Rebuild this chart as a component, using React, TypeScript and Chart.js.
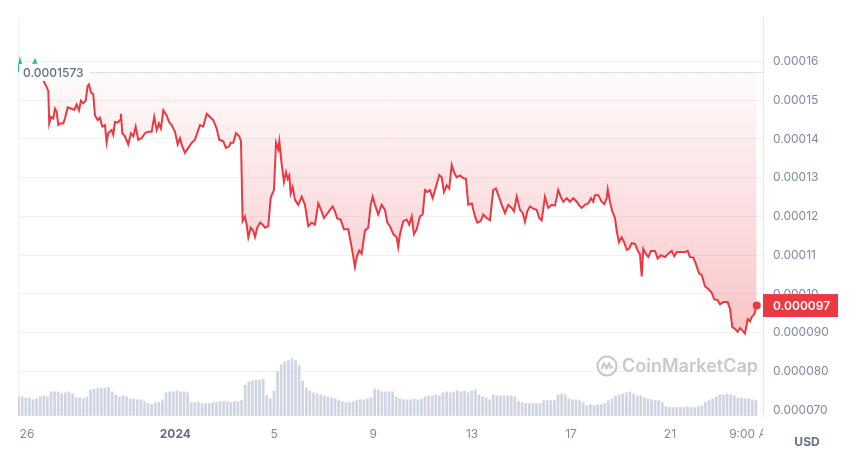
import React, { useEffect, useRef } from 'react';
import { Chart, registerables } from 'chart.js';

Chart.register(...registerables);

// Time axis: hours since 26 Dec 00:00
const priceHours = [
  -8.7, -6.8, -3.9, 0, 3.9, 7.8, 10.7, 14.6, 19.1, 20.7, 21.6, 23.3, 25.5, 27.2, 28.8, 30.4, 32.0, 35.2, 36.9, 39.5,
  43.4, 45.9, 48.2, 50.5, 52.4, 54.6, 57.0, 58.9, 60.2, 62.1, 64.3, 66.0, 68.6, 70.8, 73.1, 75.7, 77.3, 78.9, 82.2, 83.8,
  85.4, 88.0, 90.3, 91.2, 92.5, 95.1, 98.3, 100.9, 103.2, 105.5, 108.0, 111.3, 114.5, 117.7, 121.0, 123.5, 125.9, 128.1, 130.0, 132.3,
  135.6, 137.8, 140.4, 143.6, 146.3, 148.5, 150.7, 153.3, 156.5, 159.8, 163.0, 166.2, 167.9, 171.1, 174.4, 177.6, 180.8, 184.1, 186.6, 190.5,
  193.1, 196.3, 197.7, 200.2, 202.8, 206.0, 207.7, 209.3, 211.6, 213.2, 214.8, 217.1, 219.6, 221.3, 223.5, 226.1, 228.7, 231.0, 234.2, 236.5,
  237.5, 239.7, 241.7, 243.9, 244.9, 247.2, 249.4, 251.4, 253.0, 254.6, 255.9, 257.9, 260.1, 263.3, 266.6, 269.8, 273.0, 276.3, 279.5, 282.7,
  286.0, 288.2, 290.9, 294.1, 296.7, 298.9, 301.1, 304.4, 307.6, 311.8, 315.1, 318.3, 320.0, 322.5, 324.8, 328.0, 331.2, 333.6, 335.5, 337.7,
  340.9, 344.2, 347.4, 349.7, 352.3, 355.5, 358.8, 360.3, 362.0, 365.2, 368.5, 371.0, 373.4, 375.6, 378.2, 381.4, 384.0, 386.3, 388.5, 391.1,
  393.7, 396.9, 400.1, 402.5, 404.7, 407.3, 409.8, 412.2, 414.4, 417.0, 420.2, 423.4, 426.0, 428.3, 431.6, 434.8, 437.0, 440.3, 442.8, 446.1,
  449.3, 452.5, 455.1, 457.4, 460.7, 463.9, 467.1, 470.4, 472.6, 475.3, 478.5, 481.1, 483.3, 485.5, 488.2, 491.4, 494.7, 497.2, 499.5, 502.7,
  505.9, 509.2, 512.4, 515.6, 517.9, 520.5, 523.8, 527.0, 530.2, 533.5, 536.7, 538.3, 541.5, 544.8, 547.4, 549.6, 551.2, 554.5, 557.7, 560.3,
  562.6, 563.6, 565.8, 568.0, 570.7, 572.3, 574.5, 577.1, 579.7, 582.0, 584.2, 586.9, 590.1, 592.7, 594.9, 596.6, 598.1, 600.5, 603.0, 605.6,
  609.5, 612.1, 615.3, 619.2, 622.4, 625.7, 628.2, 630.5, 634.7, 638.6, 641.2, 643.4, 646.6, 649.0, 652.2, 654.8, 658.0, 661.2, 664.5, 667.0,
  670.3, 672.6, 675.8, 680.0, 682.3, 684.5, 687.2, 689.7, 692.0, 694.2, 696.8, 699.5, 701.7, 703.3, 705.9, 708.2,
];

// Price in USD
const priceValues = [
  15.73e-5, 16.03e-5, 15.78e-5, 15.73e-5, 15.83e-5, 16.03e-5, 15.78e-5, 15.58e-5, 15.34e-5, 15.24e-5, 14.40e-5, 14.57e-5, 14.53e-5, 14.78e-5, 14.70e-5, 14.36e-5, 14.40e-5, 14.40e-5, 14.53e-5, 14.82e-5,
  14.78e-5, 14.75e-5, 14.89e-5, 14.74e-5, 14.99e-5, 14.92e-5, 14.99e-5, 15.37e-5, 15.41e-5, 15.20e-5, 15.16e-5, 14.61e-5, 14.49e-5, 14.55e-5, 14.32e-5, 14.36e-5, 13.91e-5, 14.15e-5, 14.23e-5, 14.11e-5,
  14.44e-5, 14.42e-5, 14.49e-5, 14.65e-5, 14.15e-5, 14.07e-5, 13.86e-5, 14.15e-5, 14.07e-5, 14.32e-5, 13.98e-5, 14.02e-5, 14.15e-5, 14.19e-5, 14.19e-5, 14.57e-5, 14.23e-5, 14.40e-5, 14.27e-5, 14.74e-5,
  14.61e-5, 14.44e-5, 14.36e-5, 14.19e-5, 13.86e-5, 14.02e-5, 13.81e-5, 13.64e-5, 13.77e-5, 13.90e-5, 13.98e-5, 14.23e-5, 14.36e-5, 14.32e-5, 14.65e-5, 14.57e-5, 14.49e-5, 14.27e-5, 13.98e-5, 13.94e-5,
  13.77e-5, 13.81e-5, 13.90e-5, 13.90e-5, 14.15e-5, 14.07e-5, 13.94e-5, 11.88e-5, 12.00e-5, 11.79e-5, 11.46e-5, 11.71e-5, 11.63e-5, 11.47e-5, 11.71e-5, 11.84e-5, 11.79e-5, 11.71e-5, 11.75e-5, 12.47e-5,
  12.55e-5, 12.68e-5, 13.90e-5, 13.73e-5, 13.94e-5, 13.35e-5, 12.89e-5, 13.14e-5, 12.97e-5, 13.06e-5, 12.59e-5, 12.76e-5, 12.43e-5, 12.30e-5, 12.51e-5, 12.30e-5, 11.75e-5, 11.84e-5, 11.79e-5, 12.34e-5,
  12.13e-5, 11.96e-5, 12.05e-5, 12.17e-5, 12.26e-5, 12.13e-5, 11.95e-5, 11.92e-5, 11.67e-5, 11.67e-5, 11.21e-5, 10.70e-5, 10.95e-5, 11.12e-5, 11.04e-5, 11.63e-5, 11.71e-5, 12.30e-5, 12.51e-5, 12.30e-5,
  12.05e-5, 12.30e-5, 12.17e-5, 11.84e-5, 11.75e-5, 11.54e-5, 11.46e-5, 11.21e-5, 11.54e-5, 11.88e-5, 11.92e-5, 11.79e-5, 12.00e-5, 11.54e-5, 11.67e-5, 12.00e-5, 12.05e-5, 12.68e-5, 12.63e-5, 12.68e-5,
  12.47e-5, 12.76e-5, 13.07e-5, 13.01e-5, 12.63e-5, 12.80e-5, 12.72e-5, 13.33e-5, 13.14e-5, 13.01e-5, 13.06e-5, 12.99e-5, 12.97e-5, 12.30e-5, 12.34e-5, 12.00e-5, 11.84e-5, 11.88e-5, 12.05e-5, 11.96e-5,
  11.90e-5, 12.68e-5, 12.72e-5, 12.55e-5, 12.30e-5, 12.09e-5, 12.30e-5, 12.22e-5, 12.13e-5, 12.51e-5, 12.17e-5, 12.09e-5, 11.86e-5, 12.13e-5, 12.26e-5, 12.20e-5, 12.17e-5, 11.96e-5, 11.90e-5, 12.51e-5,
  12.22e-5, 12.30e-5, 12.28e-5, 12.68e-5, 12.51e-5, 12.38e-5, 12.47e-5, 12.38e-5, 12.47e-5, 12.38e-5, 12.26e-5, 12.22e-5, 12.30e-5, 12.34e-5, 12.47e-5, 12.38e-5, 12.55e-5, 12.55e-5, 12.38e-5, 12.32e-5,
  12.47e-5, 12.70e-5, 12.38e-5, 12.13e-5, 11.96e-5, 11.63e-5, 11.33e-5, 11.46e-5, 11.33e-5, 11.14e-5, 11.16e-5, 11.31e-5, 11.29e-5, 11.12e-5, 11.02e-5, 10.45e-5, 11.16e-5, 11.04e-5, 10.95e-5, 11.11e-5,
  11.11e-5, 10.91e-5, 11.00e-5, 10.95e-5, 11.04e-5, 11.11e-5, 10.97e-5, 11.08e-5, 11.08e-5, 11.08e-5, 11.11e-5, 10.95e-5, 10.94e-5, 10.79e-5, 10.53e-5, 10.49e-5, 10.20e-5, 10.13e-5, 10.03e-5, 9.86e-5,
  9.84e-5, 9.73e-5, 9.79e-5, 9.79e-5, 9.61e-5, 9.14e-5, 9.10e-5, 9.02e-5, 9.12e-5, 9.06e-5, 8.98e-5, 9.35e-5, 9.29e-5, 9.40e-5, 9.48e-5, 9.70e-5,
];

// Volume bars (relative heights), one every volumeStepHours from volumeStartHour
const volumeStartHour = -8.1;
const volumeStepHours = 3.49;
const volumeValues = [
  20, 20, 19, 19, 17, 18, 20, 21, 20, 25, 25, 25, 23, 24, 25, 23, 19, 19, 18, 20,
  27, 28, 29, 29, 29, 30, 25, 22, 20, 21, 20, 18, 18, 17, 17, 15, 13, 12, 14, 14,
  17, 24, 25, 25, 26, 25, 25, 24, 14, 14, 14, 13, 13, 13, 14, 14, 15, 15, 15, 14,
  15, 15, 16, 32, 35, 36, 37, 37, 38, 21, 18, 26, 46, 53, 56, 57, 59, 57, 52, 36,
  29, 26, 24, 23, 22, 21, 20, 19, 18, 16, 15, 14, 14, 15, 16, 17, 17, 18, 19, 28,
  27, 25, 25, 25, 25, 20, 18, 17, 17, 17, 18, 17, 18, 20, 21, 21, 22, 21, 24, 25,
  24, 25, 26, 25, 26, 24, 26, 27, 22, 20, 19, 17, 22, 21, 21, 21, 21, 21, 20, 15,
  14, 13, 13, 13, 13, 13, 16, 16, 16, 16, 22, 23, 22, 18, 17, 17, 16, 14, 11, 12,
  11, 12, 12, 13, 16, 18, 21, 22, 23, 24, 25, 23, 21, 21, 19, 18, 17, 16, 16, 14,
  10, 9, 9, 9, 9, 9, 10, 9, 9, 10, 11, 14, 16, 18, 20, 22, 22, 23, 22, 21,
  19, 19, 18, 18, 17, 16,
];
const volumeMax = 408;

const xTickHours = [0, 144, 240, 336, 432, 528, 624, 705];
const xTickLabels = ['26', '2024', '5', '9', '13', '17', '21', '9:00 AM'];
const boldTickLabel = '2024';

const yTickValues = [7e-5, 8e-5, 9e-5, 10e-5, 11e-5, 12e-5, 13e-5, 14e-5, 15e-5, 16e-5];
const yTickLabels = ['0.000070', '0.000080', '0.000090', '0.00010', '0.00011', '0.00012', '0.00013', '0.00014', '0.00015', '0.00016'];

const openPrice = 15.73e-5;
const openPriceLabel = '0.0001573';
const lastPriceLabel = '0.000097';
const currencyLabel = 'USD';
const watermarkText = 'CoinMarketCap';

const RED = '#ea3943';
const GREEN = '#16c784';
const FONT = 'Inter, "Noto Sans", sans-serif';

const decorPlugin = {
  id: 'decor',
  beforeDatasetsDraw(chart: any) {
    const { ctx, chartArea: a } = chart;
    ctx.save();
    // left border line
    ctx.strokeStyle = '#eef1f5';
    ctx.lineWidth = 1;
    ctx.beginPath();
    ctx.moveTo(a.left + 0.5, a.top);
    ctx.lineTo(a.left + 0.5, a.bottom);
    ctx.stroke();

    // watermark
    ctx.font = `600 18px ${FONT}`;
    ctx.fillStyle = '#c4c9d2';
    ctx.textAlign = 'right';
    ctx.textBaseline = 'middle';
    const tx = a.right - 5;
    const ty = a.bottom - 49;
    ctx.fillText(watermarkText, tx, ty);
    const w = ctx.measureText(watermarkText).width;
    const cx = tx - w - 15;
    const cy = ty - 1;
    ctx.strokeStyle = '#c4c9d2';
    ctx.lineWidth = 2.2;
    ctx.beginPath();
    ctx.arc(cx, cy, 9.5, 0, Math.PI * 2);
    ctx.stroke();
    ctx.lineWidth = 2;
    ctx.lineJoin = 'round';
    ctx.beginPath();
    ctx.moveTo(cx - 5.5, cy + 3);
    ctx.lineTo(cx - 3, cy - 3);
    ctx.lineTo(cx - 0.5, cy + 2.5);
    ctx.lineTo(cx + 2, cy - 3);
    ctx.lineTo(cx + 3.5, cy + 2);
    ctx.lineTo(cx + 6, cy + 0.5);
    ctx.stroke();
    ctx.restore();
  },
  afterDatasetsDraw(chart: any) {
    const { ctx, chartArea: a, scales } = chart;
    const y = scales.y.getPixelForValue(openPrice);
    ctx.save();
    ctx.font = `500 12px ${FONT}`;
    const tw = ctx.measureText(openPriceLabel).width;
    // label box hiding the line behind it
    ctx.fillStyle = '#ffffff';
    ctx.fillRect(a.left + 1, y - 8, tw + 8, 17);
    ctx.fillStyle = '#616e85';
    ctx.textAlign = 'left';
    ctx.textBaseline = 'middle';
    ctx.fillText(openPriceLabel, a.left + 5, y + 1);
    // dotted baseline
    ctx.strokeStyle = '#a3abb8';
    ctx.lineWidth = 1;
    ctx.setLineDash([1, 2]);
    ctx.beginPath();
    ctx.moveTo(a.left + tw + 12, Math.round(y) + 0.5);
    ctx.lineTo(a.right, Math.round(y) + 0.5);
    ctx.stroke();
    ctx.restore();
  },
  afterDraw(chart: any) {
    const { ctx, chartArea: a, scales } = chart;
    ctx.save();
    // x tick labels, clipped at the price axis
    ctx.beginPath();
    ctx.rect(0, a.bottom, a.right, chart.height - a.bottom);
    ctx.clip();
    ctx.textAlign = 'center';
    ctx.textBaseline = 'middle';
    xTickHours.forEach((h, i) => {
      const label = xTickLabels[i];
      const bold = label === boldTickLabel;
      ctx.font = `${bold ? 700 : 400} 12px ${FONT}`;
      ctx.fillStyle = bold ? '#616e85' : '#808a9d';
      ctx.fillText(label, scales.x.getPixelForValue(h), a.bottom + 18);
    });
    ctx.restore();

    ctx.save();
    // currency label
    ctx.font = `700 12px ${FONT}`;
    ctx.fillStyle = '#616e85';
    ctx.textAlign = 'center';
    ctx.textBaseline = 'middle';
    ctx.fillText(currencyLabel, a.right + 44, a.bottom + 26);

    // last price tag
    const last = priceValues[priceValues.length - 1];
    const py = scales.y.getPixelForValue(last);
    ctx.fillStyle = RED;
    ctx.fillRect(a.right, py - 11.5, 75, 23);
    ctx.font = `600 12px ${FONT}`;
    ctx.fillStyle = '#ffffff';
    ctx.textAlign = 'left';
    ctx.fillText(lastPriceLabel, a.right + 10, py + 0.5);
    ctx.restore();
  },
};

export default function App() {
  const canvasRef = useRef<HTMLCanvasElement | null>(null);

  useEffect(() => {
    const canvas = canvasRef.current;
    if (!canvas) return;
    Chart.defaults.font.family = FONT;

    const lastIndex = priceValues.length - 1;
    const priceData = priceHours.map((h, i) => ({ x: h, y: priceValues[i] }));
    const volumeData = volumeValues.map((v, i) => ({ x: volumeStartHour + i * volumeStepHours, y: v }));

    const chart = new Chart(canvas, {
      data: {
        datasets: [
          {
            type: 'line',
            data: priceData,
            xAxisID: 'x',
            yAxisID: 'y',
            order: 1,
            borderColor: RED,
            borderWidth: 2,
            tension: 0,
            pointRadius: (ctx: any) => (ctx.dataIndex === lastIndex ? 4 : 0),
            pointBackgroundColor: RED,
            pointBorderWidth: 0,
            fill: { target: { value: openPrice }, above: 'rgba(22,199,132,0.12)' },
            backgroundColor: (ctx: any) => {
              const c = ctx.chart;
              const area = c.chartArea;
              if (!area || !c.scales.y) return 'rgba(234,57,67,0.15)';
              const y0 = c.scales.y.getPixelForValue(openPrice);
              const g = c.ctx.createLinearGradient(0, y0, 0, area.bottom);
              g.addColorStop(0, 'rgba(234,57,67,0.02)');
              g.addColorStop(1, 'rgba(234,57,67,0.38)');
              return g;
            },
            segment: {
              borderColor: (ctx: any) =>
                ctx.p0.parsed.y >= openPrice && ctx.p1.parsed.y >= openPrice ? GREEN : RED,
            },
          } as any,
          {
            type: 'bar',
            data: volumeData,
            xAxisID: 'x',
            yAxisID: 'yv',
            order: 2,
            backgroundColor: '#cfd5e2',
            barPercentage: 0.75,
            categoryPercentage: 1,
            grouped: false,
          } as any,
        ],
      },
      options: {
        animation: false,
        responsive: true,
        maintainAspectRatio: false,
        events: [],
        layout: { padding: { left: 18, top: 8, bottom: 39, right: 0 } },
        plugins: { legend: { display: false }, tooltip: { enabled: false } },
        scales: {
          x: {
            type: 'linear',
            display: false,
            offset: false,
            min: -8.7,
            max: 714.3,
          },
          y: {
            type: 'linear',
            position: 'right',
            min: 6.8486e-5,
            max: 17.144e-5,
            afterBuildTicks: (scale: any) => {
              scale.ticks = yTickValues.map((v) => ({ value: v }));
            },
            afterFit: (scale: any) => {
              scale.width = 87;
            },
            grid: { color: '#eff2f5', drawTicks: false, lineWidth: 1 },
            border: { display: true, color: '#e4e7ec' },
            ticks: {
              padding: 10,
              color: '#808a9d',
              font: { size: 12, family: FONT },
              callback: (_v: any, i: number) => yTickLabels[i],
            },
          },
          yv: {
            type: 'linear',
            display: false,
            min: 0,
            max: volumeMax,
          },
        },
      } as any,
      plugins: [decorPlugin],
    });

    return () => chart.destroy();
  }, []);

  return (
    <div style={{ position: 'fixed', left: 0, top: 0, width: 850, height: 455, background: '#fff' }}>
      <canvas ref={canvasRef} />
    </div>
  );
}
